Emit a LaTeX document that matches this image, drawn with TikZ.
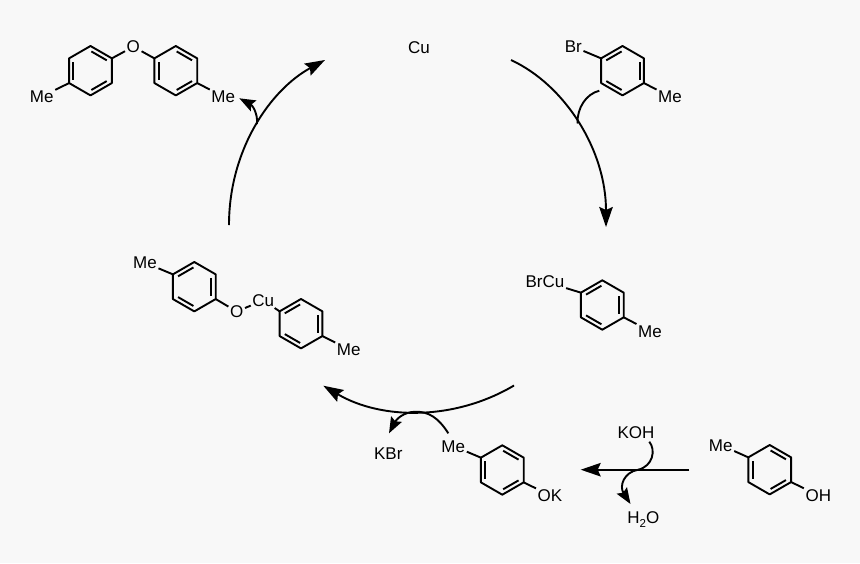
\documentclass[tikz,border=0pt]{standalone}
\usepackage{fontspec}
\setmainfont{Liberation Sans}
\usetikzlibrary{calc}
\usetikzlibrary{arrows.meta}

\definecolor{pagebg}{HTML}{F8F8F8}

\tikzset{
  bond/.style={line width=1.9pt, line join=round},
  innerbond/.style={line width=1.9pt, shorten >=1pt, shorten <=1pt},
  atom/.style={inner sep=1.5pt, text height=12pt, text depth=0pt, font=\fontsize{17}{18}\selectfont},
  curve/.style={line width=1.9pt},
  bigarrow/.style={curve, -{Stealth[length=20pt, width=13.5pt, inset=3pt]}},
  smallarrow/.style={curve, -{Stealth[length=16pt, width=12pt, inset=2.5pt]}},
}

% ring: name, centre x, centre y, inner bonds
\newcommand{\arylring}[4]{
  \coordinate (#1c) at (#2,#3);
  \coordinate (#11) at (#2,#3-24.7);
  \coordinate (#12) at (#2+21.4,#3-12.35);
  \coordinate (#13) at (#2+21.4,#3+12.35);
  \coordinate (#14) at (#2,#3+24.7);
  \coordinate (#15) at (#2-21.4,#3+12.35);
  \coordinate (#16) at (#2-21.4,#3-12.35);
  \draw[bond] (#11) -- (#12) -- (#13) -- (#14) -- (#15) -- (#16) -- cycle;
  \foreach \a/\b in {#4}
    \draw[innerbond] ($(#1\a)!0.2!(#1c)$) -- ($(#1\b)!0.2!(#1c)$);
}

\begin{document}
\begin{tikzpicture}[x=1pt, y=-1pt]
% background
\fill[pagebg] (0,0) rectangle (860,563);

% rings
\arylring{P}{90.5}{70.7}{1/2,3/4,5/6}
\arylring{Q}{175.8}{70.7}{1/2,3/4,5/6}
\arylring{B}{622.5}{70.7}{2/3,4/5,6/1}
\arylring{C}{602.3}{305}{2/3,4/5,6/1}
\arylring{R}{194.3}{286.7}{2/3,4/5,6/1}
\arylring{S}{301}{323.7}{2/3,4/5,6/1}
\arylring{K}{502.3}{470}{1/2,3/4,5/6}
\arylring{H}{769.7}{469.7}{1/2,3/4,5/6}

% labels
\begin{scope}[every node/.style={atom}]
\node (cu) at (419,47) {Cu};
% product
\node (pme) at (41.7,96.5) {Me};
\node (po) at (133.3,46.7) {O};
\node (qme) at (223.3,96.5) {Me};
% aryl bromide
\node (bbr) at (573.3,46.7) {Br};
\node (bme) at (670,96.5) {Me};
% oxidative addition
\node (cbr) at (545,281.7) {BrCu};
\node (cme) at (650,331) {Me};
% ligand exchange
\node (rme) at (145,262.7) {Me};
\node (ro) at (236.7,311.5) {O};
\node (rcu) at (263.3,300.3) {Cu};
\node (sme) at (348.7,349.3) {Me};
% phenoxide
\node (kme) at (453.3,446) {Me};
\node (kok) at (550,495.3) {OK};
\node (kbr) at (388.3,453.3) {KBr};
% phenol
\node (koh) at (636,432) {KOH};
\node (water) at (643.3,517.7) {H\raisebox{-3.5pt}{\fontsize{11.5}{12}\selectfont 2}O};
\node (hme) at (720.7,445) {Me};
\node (hoh) at (818.3,495.3) {OH};
\end{scope}

% substituent bonds
\draw[bond] (P5) -- (pme);
\draw[bond] (P2) -- (po);
\draw[bond] (Q6) -- (po);
\draw[bond] (Q3) -- (qme);
\draw[bond] (B6) -- (bbr);
\draw[bond] (B3) -- (bme);
\draw[bond] (C6) -- (cbr);
\draw[bond] (C3) -- (cme);
\draw[bond] (R6) -- (rme);
\draw[bond] (R3) -- (ro);
\draw[bond] (ro) -- (rcu);
\draw[bond] (rcu) -- (S6);
\draw[bond] (S3) -- (sme);
\draw[bond] (K6) -- (kme);
\draw[bond] (K3) -- (kok);
\draw[bond] (H6) -- (hme);
\draw[bond] (H3) -- (hoh);

% coordinates
\coordinate (TR) at (511,60);
\coordinate (TRend) at (606,227);
\coordinate (TRin) at (599.3,90.7);
\coordinate (TRjoin) at (577.5,123.5);
\coordinate (TL) at (229,225);
\coordinate (TLend) at (325,60);
\coordinate (TLjoin) at (257,124);
\coordinate (TLout) at (239.3,98.3);
\coordinate (BT) at (514,385.5);
\coordinate (BTend) at (323.3,385.7);
\coordinate (BTin) at (448.3,433.3);
\coordinate (BTjoin) at (416,411.7);
\coordinate (BTout) at (389,433.3);
\coordinate (ST) at (689.3,469.7);
\coordinate (STend) at (580.7,469.7);
\coordinate (STin) at (649.3,441.7);
\coordinate (STjoin) at (638.3,469.7);
\coordinate (STout) at (630.5,504);

% cycle arrows
\draw[bigarrow] (TR) .. controls (565,85) and (606,150) .. (TRend);
\draw[curve] (TRin) .. controls (586,94) and (577,108) .. (TRjoin);
\draw[bigarrow] (TL) .. controls (229,150) and (270,90) .. (TLend);
\draw[smallarrow] (TLjoin) .. controls (258,113) and (252,105) .. (TLout);
\draw[bigarrow] (BT) .. controls (455.2,420.4) and (382.1,420.4) .. (BTend);
\draw[smallarrow] (BTin) .. controls (438,417) and (428,411.7) .. (BTjoin) .. controls (403,411.7) and (396,420) .. (BTout);

% base step
\draw[bigarrow] (ST) -- (STend);
\draw[curve] (STin) .. controls (656,450) and (653,466) .. (STjoin);
\draw[smallarrow] (STjoin) .. controls (624,472) and (619,486) .. (STout);

\end{tikzpicture}
\end{document}
